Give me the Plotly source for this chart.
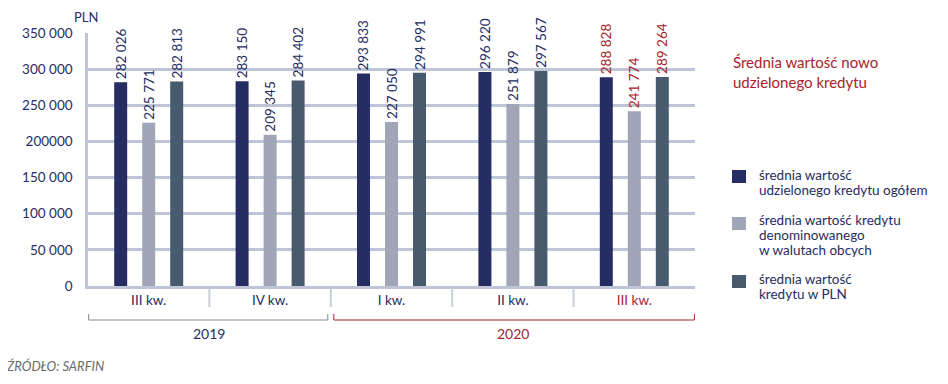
import plotly.graph_objects as go

quarters = ["III kw.", "IV kw.", "I kw.", "II kw.", "III kw."]
years = ["2019", "2020"]
total = [282026, 283150, 293833, 296220, 288828]
foreign = [225771, 209345, 227050, 251879, 241774]
pln = [282813, 284402, 294991, 297567, 289264]
legend_lines = [
    ["średnia wartość", "udzielonego kredytu ogółem"],
    ["średnia wartość kredytu", "denominowanego", "w walutach obcych"],
    ["średnia wartość", "kredytu w PLN"],
]
ytick_vals = [0, 50000, 100000, 150000, 200000, 250000, 300000, 350000]
ytick_text = ["0", "50 000", "100 000", "150 000", "200000", "250 000", "300 000", "350 000"]
title_lines = ["Średnia wartość nowo", "udzielonego kredytu"]
source = "ŹRÓDŁO: SARFIN"

NAVY = "#252D62"
LIGHT = "#A0A5B7"
SLATE = "#485A6E"
RED = "#A8232A"
GRID = "#BEC5D7"
FONT = "Lato"

x = list(range(len(quarters)))
label_colors = [NAVY] * 4 + [RED]


def fmt(v):
    return f"{v:,}".replace(",", " ")


fig = go.Figure()
for vals, color, lines in zip([total, foreign, pln], [NAVY, LIGHT, SLATE], legend_lines):
    fig.add_trace(go.Bar(
        x=x, y=vals, name=" ".join(lines), marker=dict(color=color, line=dict(width=0)),
        text=[fmt(v) for v in vals], textposition="outside", textangle=-90,
        textfont=dict(color=label_colors, size=13.5, family=FONT),
        constraintext="none", cliponaxis=False, showlegend=False,
    ))

tick_text = [f"<span style='color:{c}'>{q}</span>" for q, c in zip(quarters, label_colors)]

# page body has an 8px margin: figure is 940x376 drawn at (8, 8)
fig.update_layout(
    width=940, height=376,
    margin=dict(l=80, r=253, t=25, b=98, autoexpand=False),
    plot_bgcolor="white", paper_bgcolor="white",
    barmode="group", bargap=0.308, bargroupgap=0.536,
    font=dict(family=FONT, color=NAVY, size=13),
    xaxis=dict(
        range=[-0.5, 4.5], tickvals=x, ticktext=tick_text, automargin=False,
        showline=True, linecolor=GRID, linewidth=2.5, showgrid=False,
        ticks="", tickfont=dict(size=13.5, color=NAVY), fixedrange=True,
    ),
    yaxis=dict(
        range=[0, 350000], tickvals=ytick_vals, ticktext=ytick_text, automargin=False,
        showgrid=True, gridcolor=GRID, gridwidth=2.5, zeroline=False,
        showline=True, linecolor=GRID, linewidth=2.5,
        ticks="", ticklabelstandoff=10, tickfont=dict(size=13.5, color=NAVY),
    ),
)

H = 253.0
W = 607.0


def py(px):
    return (286 - px) / H


def pxx(px):
    return (px - 88) / W


shapes = []
# group dividers below the axis
for b in [0.5, 1.5, 2.5, 3.5]:
    shapes.append(dict(type="line", xref="x", yref="paper", x0=b, x1=b, y0=py(288), y1=py(307),
                       line=dict(color="#C9CED9", width=2)))
# year brackets
brackets = [(-0.5 + 0.005, 1.5 - 0.025, "#8A8A8A"), (1.5 + 0.025, 4.5 - 0.005, RED)]
for x0, x1, c in brackets:
    shapes.append(dict(type="path", xref="x", yref="paper",
                       path=f"M {x0},{py(314)} L {x0},{py(320)} L {x1},{py(320)} L {x1},{py(314)}",
                       line=dict(color=c, width=1)))
# legend swatches
sw_tops = [170, 217, 275]
for top, color in zip(sw_tops, [NAVY, LIGHT, SLATE]):
    shapes.append(dict(type="rect", xref="paper", yref="paper", x0=pxx(732), x1=pxx(746),
                       y0=py(top), y1=py(top + 13), fillcolor=color, line=dict(width=0)))
fig.update_layout(shapes=shapes)

ann = []
ann.append(dict(text=years[0], x=0.5, xref="x", y=py(333), yref="paper", showarrow=False,
                font=dict(size=14, color=NAVY), xanchor="center", yanchor="middle"))
ann.append(dict(text=years[1], x=3, xref="x", y=py(333), yref="paper", showarrow=False,
                font=dict(size=14, color=RED), xanchor="center", yanchor="middle"))
ann.append(dict(text="PLN", x=pxx(86), xref="paper", y=py(8), yref="paper", showarrow=False,
                font=dict(size=13, color=NAVY), xanchor="center", yanchor="top",
                borderpad=0))
ann.append(dict(text=source, x=pxx(4), xref="paper", y=py(366), yref="paper", showarrow=False,
                font=dict(size=13, color="#6B6B6B", style="italic"), xanchor="left", yanchor="middle"))
for i, t in enumerate(title_lines):
    ann.append(dict(text=t, x=pxx(731), xref="paper", y=py(62 + 20 * i), yref="paper", showarrow=False,
                    font=dict(size=15, color=RED), xanchor="left", yanchor="middle"))
first_lines = [175, 220, 279]
for lines, y0 in zip(legend_lines, first_lines):
    for j, t in enumerate(lines):
        ann.append(dict(text=t, x=pxx(757), xref="paper", y=py(y0 + 15 * j), yref="paper", showarrow=False,
                        font=dict(size=13.5, color=NAVY), xanchor="left", yanchor="middle"))
fig.update_layout(annotations=ann)

fig.write_html("out.html")
